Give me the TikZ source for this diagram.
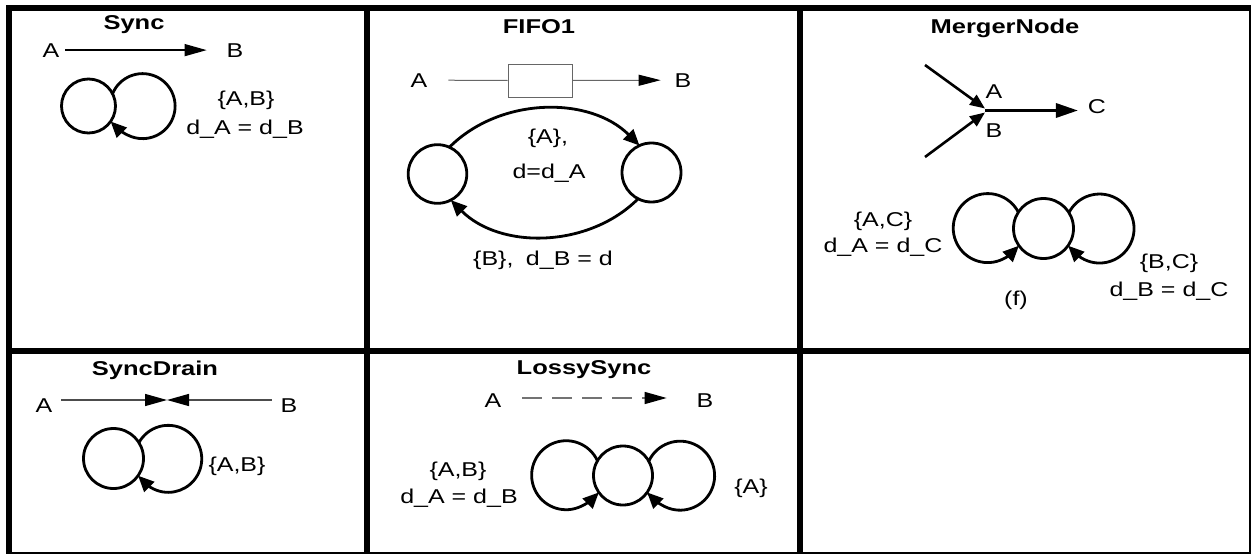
\documentclass[tikz,border=0pt]{standalone}
\usepackage{fontspec}
\setmainfont{Liberation Sans}
\usetikzlibrary{arrows.meta}
\begin{document}
\begin{tikzpicture}[x=1pt,y=1pt,
  txt/.style={font=\fontsize{20}{24}\selectfont, inner sep=0pt, outer sep=0pt, anchor=base, xscale=1.25},
  ttl/.style={txt, font=\fontsize{20}{24}\selectfont\bfseries, xscale=1.02},
  port/.style={txt},
  state/.style={circle, draw, line width=2.8pt, inner sep=0pt, outer sep=0pt},
  loopline/.style={line width=2.8pt, -{Triangle[length=16pt,width=14pt]}},
  chan/.style={line width=1.3pt, -{Triangle[length=22pt,width=12pt,color=black]}},
  grid/.style={fill=black}
]
\useasboundingbox (0,0) rectangle (1251,-554);

% table rules
\fill[grid] (6,-5) rectangle (12,-554);
\fill[grid] (6,-5) rectangle (1251,-11);
\fill[grid] (364,-5) rectangle (370,-554);
\fill[grid] (797,-5) rectangle (803,-554);
\fill[grid] (6,-348) rectangle (1249,-354);
\fill[grid] (1249,-5) rectangle (1251,-554);
\fill[grid] (6,-552) rectangle (1251,-554);

% ---------- Sync ----------
\node[ttl] (t1) at (134,-29) {Sync};
\node[port] (a1) at (51,-57) {A};
\node[port] (b1) at (235,-57) {B};
\draw[chan, shorten <=6pt, shorten >=20pt] (a1.east) -- (b1.west);
\node[state, minimum size=54pt] (s1) at (88.5,-106) {};
\draw[loopline] (s1.27.4) arc[start angle=157.6, end angle=-110, radius=32.5]
  .. controls +(160:10) and +(-45:8) .. (s1.-35);
\node[txt] (l1a) at (246,-105) {\{A,B\}};
\node[txt] (l1b) at (245,-134) {d\_A = d\_B};

% ---------- FIFO1 ----------
\node[ttl] (t2) at (539,-34) {FIFO1};
\node[port] (a2) at (419,-87) {A};
\node[port] (b2) at (683,-87) {B};
\node[draw=black!60, line width=1pt, minimum width=64pt, minimum height=33pt, inner sep=0pt] (buf) at (540,-80.5) {};
\draw[line width=1pt, black!60, shorten <=21pt] (a2.east) -- (buf.west);
\draw[line width=1pt, black!60, -{Triangle[length=22pt,width=11pt,color=black]}, shorten >=14pt] (buf.east) -- (b2.west);
\node[state, minimum size=58.6pt] (s2a) at (437.5,-174) {};
\node[state, minimum size=59pt] (s2b) at (651.5,-172.5) {};
\draw[loopline] (s2a.66) .. controls +(45:72) and +(135:70) .. (s2b.114);
\draw[loopline] (s2b.243) .. controls +(-135:70) and +(-45:70) .. (s2a.297);
\node[txt] (l2a) at (548,-143) {\{A\},};
\node[txt] (l2b) at (549,-178) {d=d\_A};
\node[txt] (l2c) at (543,-265) {\{B\},\hspace{10pt}d\_B = d};

% ---------- MergerNode ----------
\node[ttl] (t3) at (1005,-33) {MergerNode};
\coordinate (inA) at (925,-65);
\coordinate (inB) at (925,-157);
\coordinate (j) at (985,-110.5);
\draw[line width=2.6pt, -{Triangle[length=15pt,width=12pt]}] (inA) -- ([yshift=2pt]j);
\draw[line width=2.6pt, -{Triangle[length=15pt,width=12pt]}] (inB) -- ([yshift=-2pt]j);
\node[port] (a3) at (994,-98) {A};
\node[port] (b3) at (994,-137) {B};
\node[port] (c3) at (1097,-113) {C};
\draw[line width=3.2pt, -{Triangle[length=22pt,width=14pt]}, shorten >=10pt] (j) -- (c3.west |- j);
\node[state, minimum size=60pt] (m3) at (1043.5,-228.5) {};
\draw[loopline] (m3.147.9) arc[start angle=27.5, end angle=290, radius=34.5]
  .. controls +(20:10) and +(225:8) .. (m3.215);
\draw[loopline] (m3.32.1) arc[start angle=152.5, end angle=-110, radius=34.5]
  .. controls +(160:10) and +(-45:8) .. (m3.-35);
\node[txt] (l3a) at (883,-226) {\{A,C\}};
\node[txt] (l3b) at (883,-252) {d\_A = d\_C};
\node[txt] (l3c) at (1169,-268) {\{B,C\}};
\node[txt] (l3d) at (1169,-296) {d\_B = d\_C};
\node[txt] (l3e) at (1016,-305) {(f)};

% ---------- SyncDrain ----------
\node[ttl] (t4) at (155,-375) {SyncDrain};
\node[port] (a4) at (44,-412) {A};
\node[port] (b4) at (289,-412) {B};
\coordinate (mid4) at (169.5,-400);
\draw[chan, black!70, shorten <=9pt, shorten >=2.5pt] (a4.east |- mid4) -- (mid4);
\draw[chan, black!70, shorten <=9pt, shorten >=-2.5pt] (b4.west |- mid4) -- (mid4);
\node[state, minimum size=60pt] (s4) at (113.5,-458.5) {};
\draw[loopline] (s4.32.8) arc[start angle=151, end angle=-110, radius=33.5]
  .. controls +(160:10) and +(-45:8) .. (s4.-35);
\node[txt] (l4a) at (237,-471) {\{A,B\}};

% ---------- LossySync ----------
\node[ttl] (t5) at (584,-374) {LossySync};
\node[port] (a5) at (493,-407) {A};
\node[port] (b5) at (705,-407) {B};
\draw[chan, black!55, dash pattern=on 20pt off 10pt, shorten <=21pt, shorten >=30pt] (a5.east |- 0,-398) -- (b5.west |- 0,-398);
\node[state, minimum size=59pt] (m5) at (623,-475.5) {};
\draw[loopline] (m5.150.6) arc[start angle=24.8, end angle=290, radius=34.5]
  .. controls +(20:10) and +(225:8) .. (m5.215);
\draw[loopline] (m5.29.4) arc[start angle=155.2, end angle=-110, radius=34.5]
  .. controls +(160:10) and +(-45:8) .. (m5.-35);
\node[txt] (l5a) at (458,-476) {\{A,B\}};
\node[txt] (l5b) at (459,-503) {d\_A = d\_B};
\node[txt] (l5c) at (751,-493) {\{A\}};
\end{tikzpicture}
\end{document}
